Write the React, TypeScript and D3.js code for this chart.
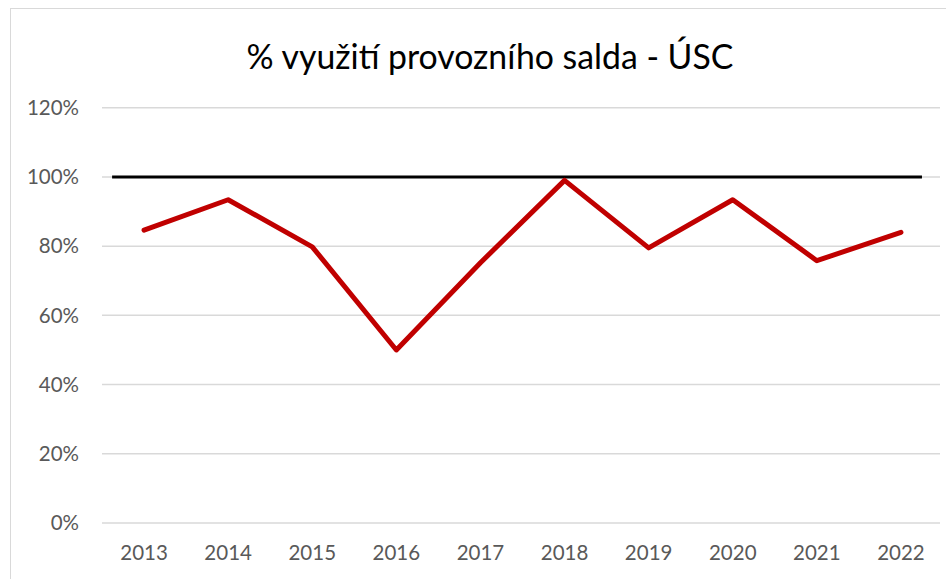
import React from "react";
import * as d3 from "d3";

const years = ["2013", "2014", "2015", "2016", "2017", "2018", "2019", "2020", "2021", "2022"];
const usage = [0.846, 0.934, 0.798, 0.5, 0.752, 0.99, 0.795, 0.934, 0.758, 0.84];
const yTicks = [0, 0.2, 0.4, 0.6, 0.8, 1.0, 1.2];
const refX = [2012.62, 2022.25];
const refY = [1, 1];
const title = "% využití provozního salda - ÚSC";

const W = 946;
const H = 579;
const FONT = "Lato, 'Open Sans', sans-serif";

export default function App() {
  const x = d3.scaleBand<string>().domain(years).range([102, 943]).padding(0);
  const xc = (d: string) => (x(d) as number) + x.bandwidth() / 2;
  const xLin = d3.scaleLinear().domain([2012.5, 2022.5]).range([102, 943]);
  const y = d3.scaleLinear().domain([0, 1.2]).range([523, 107.7]);

  const line = d3
    .line<number>()
    .x((_, i) => xc(years[i]))
    .y((d) => y(d));

  const refLine = d3
    .line<number>()
    .x((_, i) => xLin(refX[i]))
    .y((d) => y(d));

  const fmt = d3.format(".0%");

  return (
    <svg
      width={W}
      height={H}
      style={{ position: "absolute", left: 0, top: 0, background: "#fff" }}
    >
      <rect x={10.5} y={8.5} width={W + 20} height={H + 20} fill="#fff" stroke="#d9d9d9" strokeWidth={1} />
      <text x={490} y={69} textAnchor="middle" fontFamily={FONT} fontSize={33.8} fill="#000">
        {title}
      </text>
      {yTicks.map((t) => (
        <g key={t}>
          <line x1={102} x2={940} y1={y(t)} y2={y(t)} stroke="#d9d9d9" strokeWidth={1.5} />
          <text
            x={79}
            y={y(t)}
            dy="0.35em"
            textAnchor="end"
            fontFamily={FONT}
            fontSize={20.5}
            fill="#595959"
          >
            {fmt(t)}
          </text>
        </g>
      ))}
      {years.map((yr) => (
        <text
          key={yr}
          x={xc(yr)}
          y={560}
          textAnchor="middle"
          fontFamily={FONT}
          fontSize={20.5}
          fill="#595959"
        >
          {yr}
        </text>
      ))}
      <path d={refLine(refY) || ""} fill="none" stroke="#000" strokeWidth={3} />
      <path
        d={line(usage) || ""}
        fill="none"
        stroke="#c00000"
        strokeWidth={5}
        strokeLinejoin="round"
        strokeLinecap="round"
      />
    </svg>
  );
}
